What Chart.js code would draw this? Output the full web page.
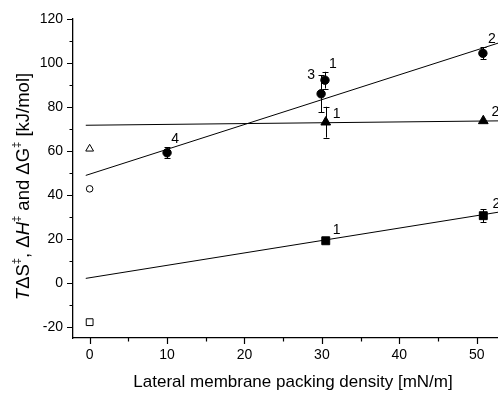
<!DOCTYPE html>
<html>
<head>
<meta charset="utf-8">
<script src="https://cdn.jsdelivr.net/npm/chart.js@4.4.1/dist/chart.umd.min.js"></script>
<style>
  html, body { margin: 0; padding: 0; background: #ffffff; }
  #wrap { width: 498px; height: 394px; overflow: hidden; }
</style>
</head>
<body>
<div id="wrap"><canvas id="c" width="498" height="394"></canvas></div>
<script>
// Axis ticks
const tickX = [0, 10, 20, 30, 40, 50];
const tickY = [-20, 0, 20, 40, 60, 80, 100, 120];
const minorX = [5, 15, 25, 35, 45];
const minorY = [-10, 10, 30, 50, 70, 90, 110];

// Free energy of activation (filled circles)
const circleX = [10, 29.9, 30.4, 50.8];
const circleY = [59.2, 86.0, 92.2, 104.4];
const circleErr = [2.5, 8.4, 3.8, 2.7];
const circleTags = ['4', '3', '1', '2'];

// Enthalpy of activation (filled triangles)
const triangleX = [30.5, 50.85];
const triangleY = [73.1, 73.7];
const triangleErr = [7.0, 0];
const triangleTags = ['1', '2'];

// Entropic term (filled squares)
const squareX = [30.5, 50.85];
const squareY = [19.2, 30.6];
const squareErr = [0, 3.0];
const squareTags = ['1', '2'];

// Values in bulk solution (open symbols, zero packing density)
const bulkX = [0];
const bulkCircleY = [42.8];
const bulkTriangleY = [61.0];
const bulkSquareY = [-17.8];

// Linear fits, given by their end points
const fitX = [-0.5, 53];
const fitCircle = [48.9, 109.3];
const fitTriangle = [71.7, 73.7];
const fitSquare = [2.1, 32.3];

const toPts = (xs, ys) => xs.map((x, i) => ({ x: x, y: ys[i] }));
const withErr = (xs, ys, es, tags) => xs.map((x, i) => ({ x: x, y: ys[i], err: es[i], tag: tags[i] }));

const fitLine = (ys) => ({
  type: 'line',
  data: toPts(fitX, ys),
  borderColor: '#000',
  borderWidth: 1,
  pointRadius: 0,
  fill: false,
  order: 2
});

const ink = '#000';
const FONT = "'Liberation Sans', Arial, sans-serif";

const extras = {
  id: 'extras',
  afterDraw(chart) {
    const ctx = chart.ctx;
    const xs = chart.scales.x, ys = chart.scales.y;
    const area = chart.chartArea;
    ctx.save();
    ctx.strokeStyle = ink;
    ctx.fillStyle = ink;

    // tick marks (major and minor), pointing outwards
    ctx.lineWidth = 1.2;
    ctx.beginPath();
    tickX.forEach(v => { const p = Math.round(xs.getPixelForValue(v)) + 0.5; ctx.moveTo(p, area.bottom); ctx.lineTo(p, area.bottom + 6); });
    minorX.forEach(v => { const p = Math.round(xs.getPixelForValue(v)) + 0.5; ctx.moveTo(p, area.bottom); ctx.lineTo(p, area.bottom + 3.5); });
    tickY.forEach(v => { const p = Math.round(ys.getPixelForValue(v)) + 0.5; ctx.moveTo(area.left, p); ctx.lineTo(area.left - 6, p); });
    minorY.forEach(v => { const p = Math.round(ys.getPixelForValue(v)) + 0.5; ctx.moveTo(area.left, p); ctx.lineTo(area.left - 3.5, p); });
    ctx.stroke();

    // error bars
    ctx.lineWidth = 1;
    chart.data.datasets.forEach(ds => {
      ds.data.forEach(d => {
        if (!d.err) return;
        const px = Math.round(xs.getPixelForValue(d.x)) + 0.5;
        const top = ys.getPixelForValue(d.y + d.err);
        const bot = ys.getPixelForValue(d.y - d.err);
        ctx.beginPath();
        ctx.moveTo(px, top); ctx.lineTo(px, bot);
        ctx.moveTo(px - 3, Math.round(top) + 0.5); ctx.lineTo(px + 3, Math.round(top) + 0.5);
        ctx.moveTo(px - 3, Math.round(bot) + 0.5); ctx.lineTo(px + 3, Math.round(bot) + 0.5);
        ctx.stroke();
      });
    });

    // point tags
    ctx.font = '14px ' + FONT;
    ctx.textAlign = 'center';
    ctx.textBaseline = 'middle';
    chart.data.datasets.forEach(ds => {
      if (!ds.tagOffsets) return;
      ds.data.forEach((d, i) => {
        const off = ds.tagOffsets[i];
        ctx.fillText(d.tag, xs.getPixelForValue(d.x) + off[0], ys.getPixelForValue(d.y) + off[1]);
      });
    });

    // x axis title
    ctx.font = '17px ' + FONT;
    ctx.fillText('Lateral membrane packing density [mN/m]', 293, 382);

    // y axis title with italic symbols and superscripts
    const base = 18.5;
    const parts = [
      { t: 'T', it: true }, { t: '\u0394S' }, { t: '\u2021', sup: true }, { t: ', \u0394' },
      { t: 'H', it: true }, { t: '\u2021', sup: true }, { t: ' and \u0394G' },
      { t: '\u2021', sup: true }, { t: ' [kJ/mol]' }
    ];
    const fontOf = p => (p.it ? 'italic ' : '') + (p.sup ? (base * 0.6).toFixed(1) : base) + 'px ' + FONT;
    let total = 0;
    parts.forEach(p => { ctx.font = fontOf(p); p.w = ctx.measureText(p.t).width; total += p.w; });
    ctx.translate(24, 186.5);
    ctx.rotate(-Math.PI / 2);
    ctx.textAlign = 'left';
    ctx.textBaseline = 'middle';
    let cx = -total / 2;
    parts.forEach(p => {
      ctx.font = fontOf(p);
      ctx.fillText(p.t, cx, p.sup ? -7 : 0);
      cx += p.w;
    });
    ctx.restore();
  }
};

new Chart(document.getElementById('c'), {
  type: 'scatter',
  data: {
    datasets: [
      fitLine(fitCircle),
      fitLine(fitTriangle),
      fitLine(fitSquare),
      {
        data: withErr(circleX, circleY, circleErr, circleTags),
        pointStyle: 'circle', pointRadius: 4.2, borderWidth: 1,
        backgroundColor: ink, borderColor: ink,
        tagOffsets: [[8, -14], [-10, -19], [8, -16], [9, -14]], order: 1
      },
      {
        data: withErr(triangleX, triangleY, triangleErr, triangleTags),
        pointStyle: 'triangle', pointRadius: 5.6, borderWidth: 1,
        backgroundColor: ink, borderColor: ink,
        tagOffsets: [[11, -8], [12, -9]], order: 1
      },
      {
        data: withErr(squareX, squareY, squareErr, squareTags),
        pointStyle: 'rect', pointRadius: 5.6, borderWidth: 1,
        backgroundColor: ink, borderColor: ink,
        tagOffsets: [[11, -11], [13, -12]], order: 1
      },
      {
        data: toPts(bulkX, bulkCircleY),
        pointStyle: 'circle', pointRadius: 3.3, borderWidth: 1,
        backgroundColor: '#fff', borderColor: ink, order: 1
      },
      {
        data: toPts(bulkX, bulkTriangleY),
        pointStyle: 'triangle', pointRadius: 4.5, borderWidth: 1,
        backgroundColor: '#fff', borderColor: ink, order: 1
      },
      {
        data: toPts(bulkX, bulkSquareY),
        pointStyle: 'rect', pointRadius: 4.8, borderWidth: 1,
        backgroundColor: '#fff', borderColor: ink, order: 1
      }
    ]
  },
  options: {
    responsive: false,
    animation: false,
    layout: { autoPadding: false, padding: { top: 19, left: 0, right: 0, bottom: 0 } },
    plugins: { legend: { display: false }, tooltip: { enabled: false } },
    scales: {
      x: {
        type: 'linear',
        min: -2.15, max: 52.75,
        grid: { display: false, drawTicks: false },
        border: { display: true, color: ink, width: 1.3 },
        afterBuildTicks: s => { s.ticks = tickX.map(v => ({ value: v })); },
        afterFit: s => { s.height = 56; s.paddingLeft = 0; s.paddingRight = 0; },
        ticks: { color: ink, font: { size: 14, family: FONT }, padding: 9, maxRotation: 0 }
      },
      y: {
        type: 'linear',
        min: -25, max: 120,
        grid: { display: false, drawTicks: false },
        border: { display: true, color: ink, width: 1.3 },
        afterBuildTicks: s => { s.ticks = tickY.map(v => ({ value: v })); },
        afterFit: s => { s.width = 73; s.paddingTop = 0; s.paddingBottom = 0; },
        ticks: { color: ink, font: { size: 14, family: FONT }, padding: 10 }
      }
    }
  },
  plugins: [extras]
});
</script>
</body>
</html>
